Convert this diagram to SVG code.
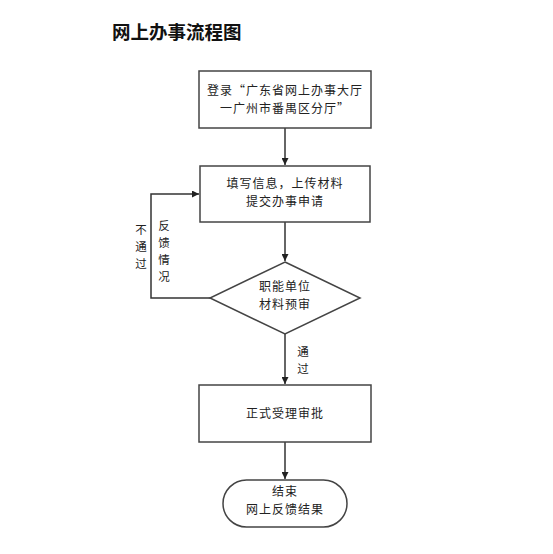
<svg xmlns="http://www.w3.org/2000/svg" width="553" height="554" viewBox="0 0 553 554">
<defs>
<marker id="arr" viewBox="0 0 10 10" refX="10" refY="5" markerWidth="7" markerHeight="7" markerUnits="userSpaceOnUse" orient="auto">
<path d="M0,0 L10,5 L0,10 z" fill="#222"/>
</marker>
<style>
.shape{fill:#fff;stroke:#444;stroke-width:1.5}
.t{font-family:"Noto Sans CJK SC","Liberation Sans",sans-serif;font-size:12px;fill:#222;text-anchor:middle;letter-spacing:1px}
.c{fill:none;stroke:#333;stroke-width:1.5;marker-end:url(#arr)}
.v{font-family:"Noto Sans CJK SC","Liberation Sans",sans-serif;font-size:11.5px;fill:#222;text-anchor:middle}
</style>
</defs>
<rect width="553" height="554" fill="#fff"/>
<text x="112" y="39" font-family="Noto Sans CJK SC, sans-serif" font-size="18.5" font-weight="bold" fill="#111">网上办事流程图</text>
<g id="connectors">
<line class="c" x1="285" y1="128" x2="285" y2="165"/>
<line class="c" x1="285" y1="222" x2="285" y2="261"/>
<polyline class="c" points="210,298 151,298 151,194 199,194"/>
<line class="c" x1="285" y1="334" x2="285" y2="384"/>
<line class="c" x1="285" y1="442" x2="285" y2="479"/>
<text class="v" x="164" y="230">反</text>
<text class="v" x="164" y="247">馈</text>
<text class="v" x="164" y="264">情</text>
<text class="v" x="164" y="281">况</text>
<text class="v" x="141" y="234">不</text>
<text class="v" x="141" y="251">通</text>
<text class="v" x="141" y="268">过</text>
<text class="v" x="303" y="356">通</text>
<text class="v" x="303" y="373">过</text>
</g>
<g id="n1">
<rect class="shape" x="199" y="71" width="172" height="57"/>
<text class="t" x="285" y="95">登录“广东省网上办事大厅</text>
<text class="t" x="285" y="112.5">一广州市番禺区分厅”</text>
</g>
<g id="n2">
<rect class="shape" x="200" y="166" width="170" height="56"/>
<text class="t" x="285" y="188">填写信息，上传材料</text>
<text class="t" x="285" y="205.5">提交办事申请</text>
</g>
<g id="n3">
<polygon class="shape" points="285,262 360,298 285,334 210,298"/>
<text class="t" x="285" y="291">职能单位</text>
<text class="t" x="285" y="308.5">材料预审</text>
</g>
<g id="n4">
<rect class="shape" x="199" y="385" width="172" height="57"/>
<text class="t" x="285" y="418">正式受理审批</text>
</g>
<g id="n5">
<rect class="shape" x="223" y="480" width="124" height="47" rx="23.5" ry="23.5"/>
<text class="t" x="285" y="496">结束</text>
<text class="t" x="285" y="513.5">网上反馈结果</text>
</g>
</svg>
